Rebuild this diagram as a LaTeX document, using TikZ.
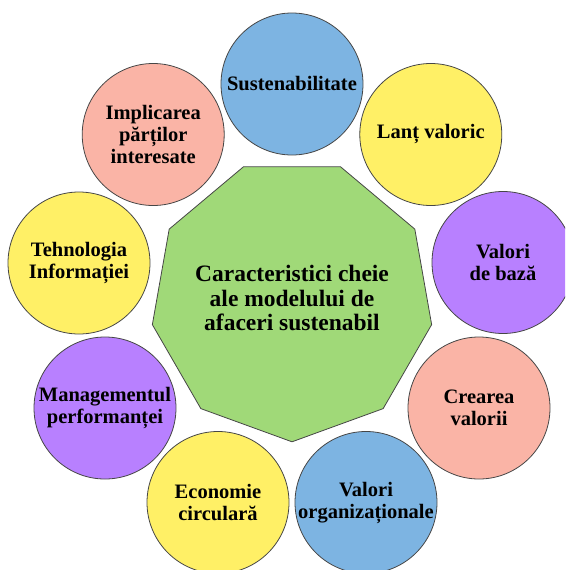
\documentclass[tikz,border=0pt]{standalone}
\usepackage{fontspec}
\setmainfont{Liberation Serif}
\definecolor{cblue}{RGB}{125,180,226}
\definecolor{cyellow}{RGB}{255,240,102}
\definecolor{cpurple}{RGB}{184,128,255}
\definecolor{csalmon}{RGB}{250,180,166}
\definecolor{cgreen}{RGB}{160,217,120}
\definecolor{cedge}{RGB}{70,70,70}
\tikzset{
  bubble/.style={circle, draw=cedge, line width=0.8pt, minimum size=142pt, inner sep=0pt,
    align=center, font=\fontsize{20.5}{22}\selectfont\bfseries},
  hubshape/.style={draw=cedge, line width=0.8pt, fill=cgreen, line join=miter},
  hubtext/.style={align=center, inner sep=0pt, font=\fontsize{23.5}{24.5}\selectfont\bfseries}
}
\begin{document}
\begin{tikzpicture}[x=1pt,y=-1pt]
\useasboundingbox (0,0) rectangle (565,570);
\clip (0,0) rectangle (565,570);
\draw[hubshape, shift={(292,300)}] (90:141.8) -- (130:141.8) -- (170:141.8) -- (210:141.8)
  -- (250:141.8) -- (290:141.8) -- (330:141.8) -- (10:141.8) -- (50:141.8) -- cycle;
\node[hubtext] (hub) at (292,298) {Caracteristici cheie\\ale modelului de\\afaceri sustenabil};
\node[bubble, fill=cblue]    (c1) at (292,84)      {Sustenabilitate};
\node[bubble, fill=cyellow]  (c2) at (430.8,134.5) {Lanț valoric};
\node[bubble, fill=cpurple]  (c3) at (503,262.5)   {Valori\\de bază};
\node[bubble, fill=csalmon]  (c4) at (479,408)     {Crearea\\valorii};
\node[bubble, fill=cblue]    (c5) at (366,502.5)   {Valori\\organizaționale};
\node[bubble, fill=cyellow]  (c6) at (218,502.5)   {Economie\\circulară};
\node[bubble, fill=cpurple]  (c7) at (105,408)     {Managementul\\performanței};
\node[bubble, fill=cyellow]  (c8) at (79,263)      {Tehnologia\\Informației};
\node[bubble, fill=csalmon]  (c9) at (153.2,134.5) {Implicarea\\părților\\interesate};
\end{tikzpicture}
\end{document}
